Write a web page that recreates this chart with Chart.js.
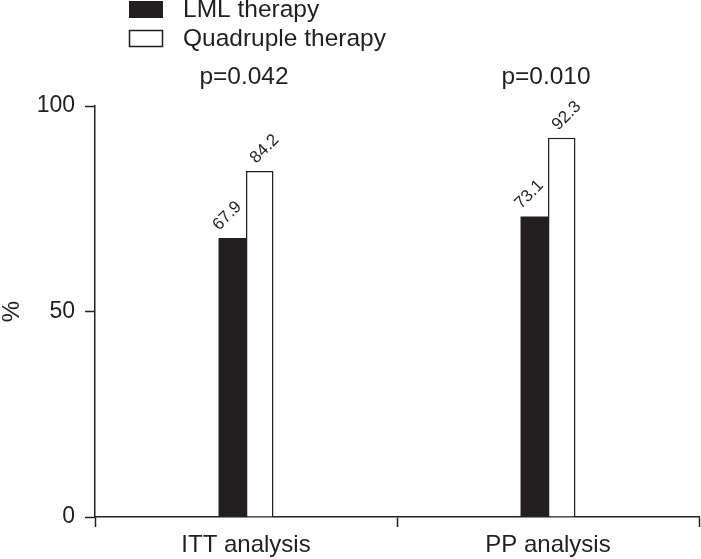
<!DOCTYPE html>
<html>
<head>
<meta charset="utf-8">
<script src="https://cdn.jsdelivr.net/npm/chart.js@4"></script>
<style>
  html, body { margin: 0; padding: 0; background: #fff; }
  #wrap { width: 701px; height: 559px; }
</style>
</head>
<body>
<div id="wrap"><canvas id="eradicationChart" width="701" height="559"></canvas></div>
<script>
var categories = ['ITT analysis', 'PP analysis'];
var lmlValues = [67.9, 73.1];
var quadValues = [84.2, 92.3];
var pValues = ['p=0.042', 'p=0.010'];
var yTicks = [0, 50, 100];

var ink = '#231f20';
var fontFamily = '"Liberation Sans", Arial, Helvetica, sans-serif';

// legend, p values and the rotated value labels
var annotations = {
  id: 'annotations',
  afterDatasetsDraw: function(chart) {
    var ctx = chart.ctx;
    var xScale = chart.scales.x;
    ctx.save();

    // legend boxes
    chart.data.datasets.forEach(function(ds, i) {
      var top = 1 + i * 29;
      ctx.fillStyle = ds.backgroundColor;
      ctx.fillRect(129, top, 34, 17);
      if (ds.borderWidth) {
        ctx.strokeStyle = ink;
        ctx.lineWidth = 1.5;
        ctx.strokeRect(129.5, top + 0.5, 33, 16);
      }
      ctx.fillStyle = ink;
      ctx.font = '24.5px ' + fontFamily;
      ctx.textAlign = 'left';
      ctx.textBaseline = 'middle';
      ctx.fillText(ds.label, 183, top + 9);
    });

    // p values
    ctx.font = '24.5px ' + fontFamily;
    ctx.textAlign = 'center';
    ctx.textBaseline = 'middle';
    pValues.forEach(function(p, i) {
      ctx.fillText(p, xScale.getPixelForValue(i) - 2, 77);
    });

    // value labels
    ctx.font = '17px ' + fontFamily;
    chart.data.datasets.forEach(function(ds, di) {
      var meta = chart.getDatasetMeta(di);
      meta.data.forEach(function(bar, i) {
        ctx.save();
        ctx.translate(bar.x + (di === 0 ? -5 : 5), bar.y - 22);
        ctx.rotate(-Math.PI / 4);
        ctx.fillText(ds.data[i].toFixed(1), 0, 0);
        ctx.restore();
      });
    });

    ctx.restore();
  }
};

var ctx = document.getElementById('eradicationChart').getContext('2d');
var eradicationChart = new Chart(ctx, {
  type: 'bar',
  data: {
    labels: categories,
    datasets: [{
      label: 'LML therapy',
      data: lmlValues,
      backgroundColor: ink,
      borderWidth: 0
    }, {
      label: 'Quadruple therapy',
      data: quadValues,
      backgroundColor: '#ffffff',
      borderColor: ink,
      borderWidth: 1.5
    }]
  },
  options: {
    responsive: false,
    animation: false,
    layout: { padding: { top: 106, right: 2, left: 0, bottom: 0 } },
    datasets: {
      bar: { categoryPercentage: 0.182, barPercentage: 1.0 }
    },
    plugins: {
      legend: { display: false },
      tooltip: { enabled: false }
    },
    scales: {
      x: {
        offset: true,
        grid: {
          offset: true,
          drawOnChartArea: false,
          tickLength: 10,
          tickColor: ink,
          tickWidth: 1.5
        },
        border: { color: ink, width: 1.5 },
        ticks: {
          color: ink,
          padding: 4,
          font: { size: 24, family: fontFamily }
        },
        afterFit: function(scale) { scale.height = 42; }
      },
      y: {
        min: 0,
        max: 100,
        afterBuildTicks: function(scale) {
          scale.ticks = yTicks.map(function(v) { return { value: v }; });
        },
        grid: {
          drawOnChartArea: false,
          tickLength: 10,
          tickColor: ink,
          tickWidth: 1.5
        },
        border: { color: ink, width: 1.5 },
        ticks: {
          color: ink,
          padding: 10,
          font: { size: 23, family: fontFamily }
        },
        title: {
          display: true,
          text: '%',
          color: ink,
          padding: 0,
          font: { size: 24, family: fontFamily, lineHeight: 1 }
        },
        afterFit: function(scale) { scale.width = 95; }
      }
    }
  },
  plugins: [annotations]
});
</script>
</body>
</html>
